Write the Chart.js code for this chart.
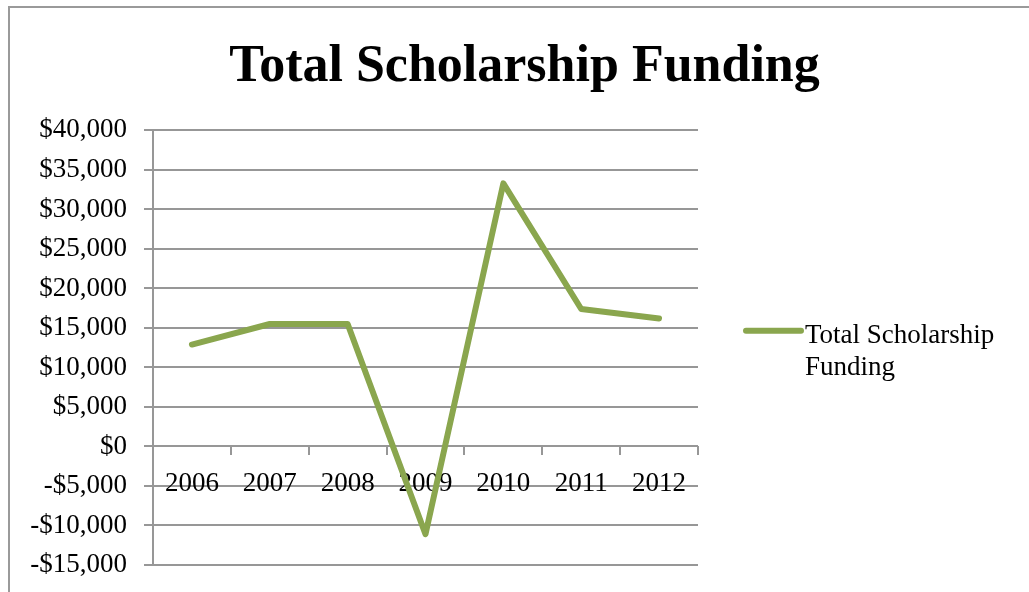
<!DOCTYPE html>
<html>
<head>
<meta charset="utf-8">
<script src="https://cdn.jsdelivr.net/npm/chart.js@4"></script>
<style>
  body { margin: 0; background: #fff; overflow: hidden; }
  #frame { position: absolute; left: 8px; top: 6px; width: 1100px; height: 700px; border: 2px solid #9a9a9a; }
  #wrap { position: absolute; left: 0; top: 0; width: 1029px; height: 592px; }
</style>
</head>
<body>
<div id="frame"></div>
<div id="wrap"><canvas id="chart" width="1029" height="592"></canvas></div>
<script>
const years = ['2006', '2007', '2008', '2009', '2010', '2011', '2012'];
const funding = [12900, 15500, 15500, -11100, 33300, 17400, 16200];
const seriesName = 'Total Scholarship Funding';
const legendLines = ['Total Scholarship', 'Funding'];

const green = '#8aa64e';
const gridGray = '#979797';
const serif = "'Liberation Serif', 'Times New Roman', serif";

function money(v) {
    const s = '$' + Math.abs(v).toLocaleString('en-US');
    return v < 0 ? '-' + s : s;
}

// legend drawn beside the plot, text wraps on two lines like the original
const sideLegend = {
    id: 'sideLegend',
    afterDraw(chart) {
        const c = chart.ctx;
        const area = chart.chartArea;
        const mid = (area.top + area.bottom) / 2;
        c.save();
        c.strokeStyle = green;
        c.lineWidth = 6;
        c.lineCap = 'round';
        c.beginPath();
        c.moveTo(area.right + 48, mid - 17);
        c.lineTo(area.right + 103, mid - 17);
        c.stroke();
        c.fillStyle = '#000';
        c.font = '27px ' + serif;
        c.textBaseline = 'alphabetic';
        legendLines.forEach((t, i) => {
            c.fillText(t, area.right + 107, mid - 5 + i * 32);
        });
        c.restore();
    }
};

new Chart(document.getElementById('chart'), {
    type: 'line',
    data: {
        labels: years,
        datasets: [{
            label: seriesName,
            data: funding,
            borderColor: green,
            backgroundColor: green,
            borderWidth: 6,
            borderJoinStyle: 'round',
            borderCapStyle: 'round',
            pointRadius: 0,
            tension: 0,
            fill: false
        }]
    },
    options: {
        responsive: false,
        animation: false,
        layout: { padding: { left: 20, right: 0, top: 0, bottom: 27 } },
        plugins: {
            legend: { display: false },
            tooltip: { enabled: false },
            title: {
                display: true,
                text: seriesName,
                color: '#000',
                font: { family: serif, size: 52, weight: 'bold', lineHeight: 1.2 },
                padding: { top: 36, bottom: 32 }
            }
        },
        scales: {
            x: {
                type: 'category',
                position: { y: 0 },
                offset: true,
                grid: {
                    offset: true,
                    drawOnChartArea: false,
                    drawTicks: true,
                    tickLength: 9,
                    color: gridGray,
                    lineWidth: 2
                },
                border: { display: false },
                ticks: {
                    color: '#000',
                    padding: 12,
                    maxRotation: 0,
                    font: { family: serif, size: 27 }
                }
            },
            y: {
                min: -15000,
                max: 40000,
                afterFit(s) {
                    s.width = 133;
                    s.paddingTop = 0;
                    s.paddingBottom = 0;
                },
                grid: { color: gridGray, lineWidth: 2, tickLength: 9 },
                border: { color: gridGray, width: 2 },
                ticks: {
                    stepSize: 5000,
                    color: '#000',
                    padding: 17,
                    font: { family: serif, size: 27 },
                    callback: v => money(v)
                }
            },
            side: {
                type: 'linear',
                position: 'right',
                afterFit(s) { s.width = 331; },
                grid: { display: false },
                border: { display: false },
                ticks: { display: false }
            }
        }
    },
    plugins: [sideLegend]
});
</script>
</body>
</html>
